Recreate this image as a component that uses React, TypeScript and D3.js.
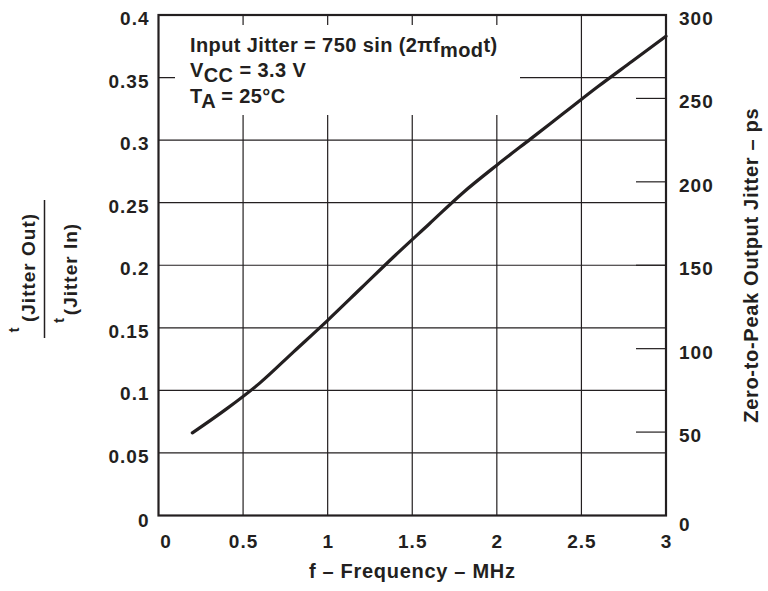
import React from "react";
import * as d3 from "d3";

// frequency (MHz) and normalized jitter
const freq = [0.2, 0.4, 0.6, 0.8, 1.0, 1.2, 1.4, 1.6, 1.8, 2.0, 2.2, 2.4, 2.6, 2.8, 3.0];
const ratio = [0.066, 0.085, 0.106, 0.131, 0.156, 0.182, 0.208, 0.233, 0.258, 0.28, 0.301, 0.322, 0.343, 0.363, 0.383];

const xTicks = [0, 0.5, 1, 1.5, 2, 2.5, 3];
const yTicks = [0, 0.05, 0.1, 0.15, 0.2, 0.25, 0.3, 0.35, 0.4];
const psTicks = [0, 50, 100, 150, 200, 250, 300];

const W = 768;
const H = 591;
const font = "'Liberation Sans', Arial, Helvetica, sans-serif";
const ink = "#231f20";

const App = () => {
  const x = d3.scaleLinear().domain([0, 3]).range([158.5, 666]);
  const y = d3.scaleLinear().domain([0, 0.4]).range([515.5, 15]);
  const yPs = d3.scaleLinear().domain([0, 300]).range([515.5, 15]);

  const pts: [number, number][] = freq.map((f, i) => [f, ratio[i]]);
  const line = d3
    .line<[number, number]>()
    .x((d) => x(d[0]))
    .y((d) => y(d[1]))
    .curve(d3.curveMonotoneX);

  const [x0, x1] = x.range();
  const [yb, yt] = y.range();
  // white box behind the conditions text
  const box = { x: 175, y: 25, w: 345, h: 90 };

  const tickFont = { fontSize: 19, letterSpacing: 1 };

  return (
    <svg
      width={W}
      height={H}
      style={{ position: "absolute", left: 0, top: 0, background: "#fff" }}
      fontFamily={font}
      fontWeight="bold"
      fill={ink}
    >
      {/* grid */}
      <g stroke={ink} strokeWidth={1.2}>
        {xTicks.slice(1, -1).map((t) => (
          <line key={"gx" + t} x1={x(t)} x2={x(t)} y1={yt} y2={yb} />
        ))}
        {yTicks.slice(1, -1).map((t) => (
          <line key={"gy" + t} x1={x0} x2={x1} y1={y(t)} y2={y(t)} />
        ))}
        {psTicks.slice(1, -1).map((t) => (
          <line key={"ps" + t} x1={x1 - 30} x2={x1} y1={yPs(t)} y2={yPs(t)} />
        ))}
      </g>
      <rect x={box.x} y={box.y} width={box.w} height={box.h} fill="#fff" />

      {/* curve */}
      <path d={line(pts) ?? ""} fill="none" stroke={ink} strokeWidth={3.2} strokeLinecap="round" />

      {/* frame */}
      <rect x={x0} y={yt} width={x1 - x0} height={yb - yt} fill="none" stroke={ink} strokeWidth={2.2} />

      {/* left ticks */}
      <g {...tickFont} textAnchor="end">
        {yTicks.map((t) => (
          <text key={"ly" + t} x={x0 - 9} y={y(t) + (t === 0 ? 11 : 10)}>
            {String(t)}
          </text>
        ))}
      </g>
      {/* right ticks */}
      <g {...tickFont} textAnchor="start">
        {psTicks.map((t) => (
          <text key={"ry" + t} x={x1 + 13} y={yPs(t) + (t === 0 ? 15.5 : 10)}>
            {String(t)}
          </text>
        ))}
      </g>
      {/* bottom ticks */}
      <g {...tickFont} textAnchor="middle">
        {xTicks.map((t) => (
          <text key={"bx" + t} x={x(t) + (t === 0 ? 7.5 : 0.5)} y={548}>
            {String(t)}
          </text>
        ))}
      </g>

      {/* axis titles */}
      <text x={(x0 + x1) / 2} y={578} fontSize={20} letterSpacing={0.7} textAnchor="middle">
        f – Frequency – MHz
      </text>
      <text
        transform={`translate(758, ${(yt + yb) / 2}) rotate(-90)`}
        fontSize={20}
        letterSpacing={0.7}
        textAnchor="middle"
      >
        Zero-to-Peak Output Jitter – ps
      </text>
      {/* left title: t(Jitter Out) / t(Jitter In) */}
      <text transform="translate(19, 330) rotate(-90)" fontSize={15} textAnchor="middle">
        t
      </text>
      <text transform="translate(34.5, 267.5) rotate(-90)" fontSize={19} letterSpacing={1} textAnchor="middle">
        (Jitter Out)
      </text>
      <line x1={44.5} x2={44.5} y1={200} y2={338} stroke={ink} strokeWidth={1.5} />
      <text transform="translate(63.5, 320.5) rotate(-90)" fontSize={15} textAnchor="middle">
        t
      </text>
      <text transform="translate(77, 269) rotate(-90)" fontSize={19} letterSpacing={1} textAnchor="middle">
        (Jitter In)
      </text>

      {/* conditions */}
      <g fontSize={20} letterSpacing={0.4}>
        <text x={190} y={52}>
          Input Jitter = 750 sin (2πf<tspan dy={5}>mod</tspan>
          <tspan dy={-5}>t)</tspan>
        </text>
        <text x={190} y={77}>
          V<tspan dy={5}>CC</tspan>
          <tspan dy={-5}> = 3.3 V</tspan>
        </text>
        <text x={190} y={103}>
          T<tspan dy={5}>A</tspan>
          <tspan dy={-5}> = 25°C</tspan>
        </text>
      </g>
    </svg>
  );
};

export default App;
